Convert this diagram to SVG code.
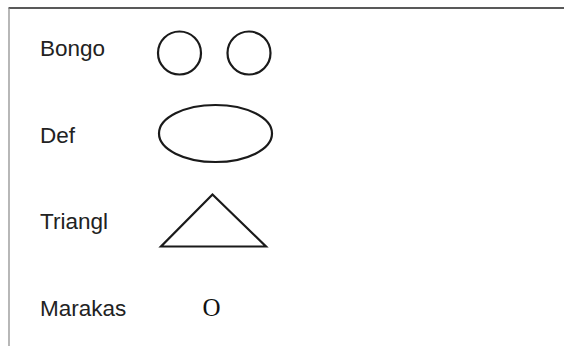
<svg xmlns="http://www.w3.org/2000/svg" width="564" height="346" viewBox="0 0 564 346">
<style>
.lbl{font-family:"Liberation Sans",Arial,Helvetica,sans-serif;font-size:22.5px;fill:#222}
.shp{fill:none;stroke:#1a1a1a;stroke-width:2.2}
</style>
<rect width="564" height="346" fill="#ffffff"/>
<g id="frame">
<line x1="8.5" y1="8" x2="564" y2="8" stroke="#222" stroke-width="1.5"/>
<line x1="9" y1="8" x2="9" y2="346" stroke="#888" stroke-width="1.2"/>
</g>
<g id="bongo">
<text class="lbl" x="40" y="56">Bongo</text>
<circle class="shp" cx="179.5" cy="53" r="21.5"/>
<circle class="shp" cx="249" cy="53" r="21.5"/>
</g>
<g id="def">
<text class="lbl" x="40" y="143">Def</text>
<ellipse class="shp" cx="215.5" cy="133.5" rx="56.5" ry="28.5"/>
</g>
<g id="triangl">
<text class="lbl" x="40" y="229">Triangl</text>
<polygon class="shp" points="212.5,194.5 161,246.5 266,246.5" stroke-linejoin="miter"/>
</g>
<g id="marakas">
<text class="lbl" x="40" y="316">Marakas</text>
<text x="211.5" y="316" text-anchor="middle" font-family="'Liberation Serif','Times New Roman',serif" font-size="25" fill="#111">O</text>
</g>
<g id="connectors"></g>
</svg>
